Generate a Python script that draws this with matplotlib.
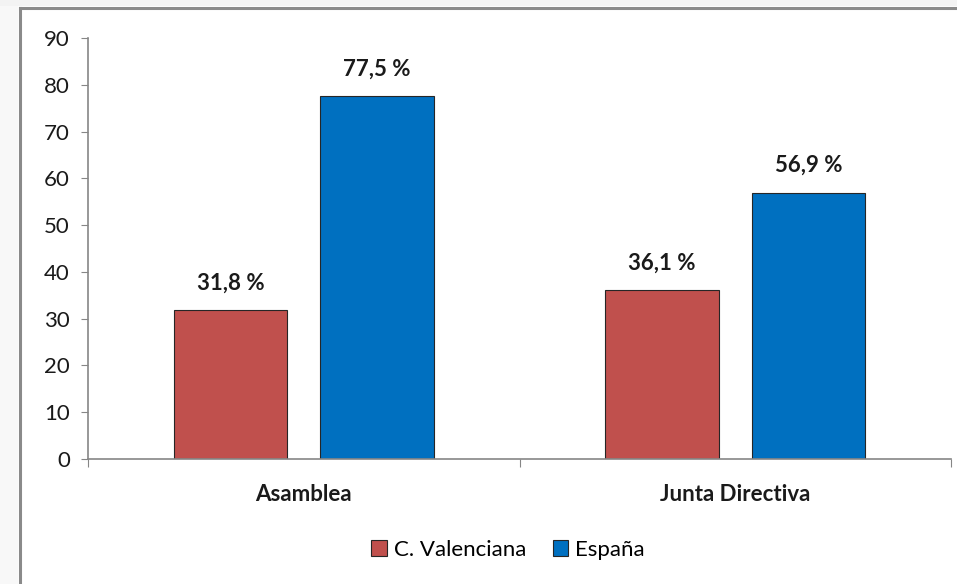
from matplotlib import pyplot as plt
from matplotlib.patches import Rectangle
from matplotlib.lines import Line2D
import numpy as np

categories = ["Asamblea", "Junta Directiva"]
series_names = ["C. Valenciana", "España"]
valenciana = [31.8, 36.1]
espana = [77.5, 56.9]
y_ticks = [0, 10, 20, 30, 40, 50, 60, 70, 80, 90]

colors = ["#C0504D", "#0070C0"]
plt.rcParams['font.family'] = ['Lato', 'DejaVu Sans']

fig = plt.figure(figsize=(9.57, 5.84), dpi=100)
fig.patch.set_facecolor("white")

# outer frame decoration (gray strip at left/top like the source screenshot)
fig.patches.append(Rectangle((0, 0), 18/957, 1, transform=fig.transFigure,
                             facecolor="#f8f8f8", edgecolor="none", zorder=0))
fig.patches.append(Rectangle((0, 1 - 6/584), 1, 6/584, transform=fig.transFigure,
                             facecolor="#f3f3f3", edgecolor="none", zorder=0))
fig.lines.append(Line2D([19.5/957, 19.5/957], [0, 1 - 8/584], transform=fig.transFigure,
                        color="#8a8a8a", lw=2.2))
fig.lines.append(Line2D([19.5/957, 1], [1 - 8/584, 1 - 8/584], transform=fig.transFigure,
                        color="#8a8a8a", lw=2.2))

ax = fig.add_axes([88/957, 1 - 459/584, (951 - 88)/957, (459 - 38)/584])

x = np.arange(len(categories))
w = 0.263
off = 0.17
b1 = ax.bar(x - off, valenciana, w, color=colors[0], edgecolor="#262626", lw=0.8,
            label=series_names[0])
b2 = ax.bar(x + off, espana, w, color=colors[1], edgecolor="#262626", lw=0.8,
            label=series_names[1])

for bars, vals in [(b1, valenciana), (b2, espana)]:
    for r, v in zip(bars, vals):
        ax.annotate(("%.1f %%" % v).replace(".", ","),
                    (r.get_x() + r.get_width() / 2, v), xytext=(0, 12),
                    textcoords="offset points", ha="center", va="bottom",
                    fontsize=16, fontweight="bold", color="#1a1a1a")

ax.set_xlim(-0.5, 1.5)
ax.set_ylim(0, 90)
ax.set_yticks(y_ticks)
ax.tick_params(axis="y", labelsize=16, length=5, color="#868686", labelcolor="#1a1a1a", pad=8)

ax.set_xticks([-0.5, 0.5, 1.5])
ax.set_xticks(x, minor=True)
ax.set_xticklabels([])
ax.set_xticklabels(categories, minor=True, fontsize=16, fontweight="bold", color="#1a1a1a")
ax.tick_params(axis="x", which="major", length=6, color="#868686")
ax.tick_params(axis="x", which="minor", length=0, pad=18)

for s in ["top", "right"]:
    ax.spines[s].set_visible(False)
for s in ["left", "bottom"]:
    ax.spines[s].set_color("#868686")
    ax.spines[s].set_linewidth(1.2)

fig.legend(handles=[b1, b2], labels=series_names, loc="center",
           bbox_to_anchor=(508/957, 1 - 550/584), ncol=2, frameon=False,
           fontsize=16, handlelength=0.7, handleheight=0.7, handletextpad=0.3,
           columnspacing=1.2)

fig.savefig("out.png", dpi=100)
